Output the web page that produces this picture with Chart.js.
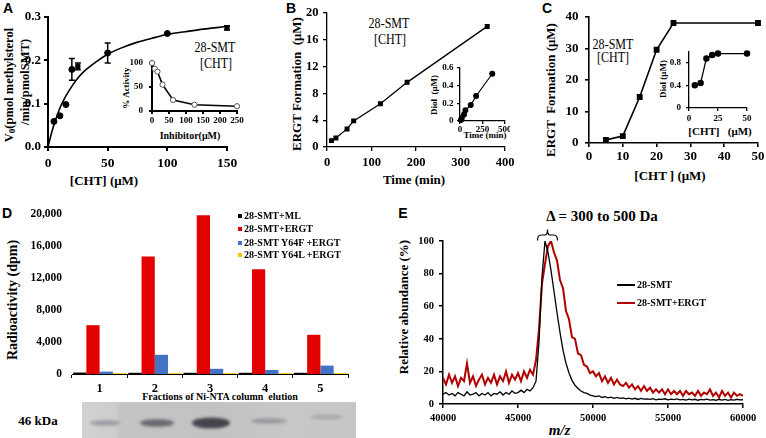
<!DOCTYPE html>
<html>
<head>
<meta charset="utf-8">
<script src="https://cdn.jsdelivr.net/npm/chart.js@4.4.1/dist/chart.umd.min.js"></script>
<style>
html,body{margin:0;padding:0;background:#fff;}
#fig{position:relative;width:766px;height:438px;overflow:hidden;font-family:"Liberation Serif","Times New Roman",serif;color:#000;}
.box{position:absolute;}
.t{position:absolute;white-space:nowrap;font-weight:bold;line-height:1;transform:translate(-50%,-50%);}
.r{transform:translate(-50%,-50%) rotate(-90deg);}
.n{font-weight:normal;transform:translate(-50%,-50%) scaleX(0.86);}
.lab{font-family:"Liberation Sans",Arial,sans-serif;font-size:14px;}
.key{position:absolute;white-space:nowrap;font-weight:bold;font-size:10px;line-height:1;transform:translateY(-50%);}
.sq{position:absolute;width:4px;height:4px;}
.ln{position:absolute;width:18px;}
</style>
</head>
<body>
<div id="fig">
  <!-- panel letters -->
  <div class="t lab" style="left:8px;top:8px">A</div>
  <div class="t lab" style="left:291px;top:8px">B</div>
  <div class="t lab" style="left:547px;top:8px">C</div>
  <div class="t lab" style="left:7px;top:213px">D</div>
  <div class="t lab" style="left:403px;top:213px">E</div>

  <!-- A titles -->
  <div class="t r" style="left:10px;top:85px;font-size:12.5px">V<sub style="font-size:9px;vertical-align:-2px">0</sub>(pmol methylsterol</div>
  <div class="t r" style="left:24.5px;top:82px;font-size:12.5px">/min/pmolSMT)</div>
  <div class="t" style="left:104px;top:180px;font-size:13px">[CHT] (μM)</div>
  <div class="t n" style="left:215px;top:48px;font-size:14px">28-SMT</div>
  <div class="t n" style="left:216px;top:64px;font-size:14px">[CHT]</div>
  <div class="t r" style="left:126px;top:88px;font-size:9px">% Activity</div>
  <div class="t" style="left:190px;top:136px;font-size:10px">Inhibitor(μM)</div>

  <!-- B titles -->
  <div class="t r" style="left:296px;top:84px;font-size:13px">ERGT Formation &nbsp;(μM)</div>
  <div class="t" style="left:414px;top:179px;font-size:13px">Time (min)</div>
  <div class="t n" style="left:389px;top:24px;font-size:14px">28-SMT</div>
  <div class="t n" style="left:390px;top:39.5px;font-size:14px">[CHT]</div>
  <div class="t r" style="left:434px;top:95px;font-size:9px">Diol &nbsp;(μM)</div>
  <div class="t" style="left:485px;top:135px;font-size:9px">Time (min)</div>

  <!-- C titles -->
  <div class="t r" style="left:550px;top:90px;font-size:13px">ERGT &nbsp;Formation (μM)</div>
  <div class="t" style="left:670px;top:175px;font-size:13px">[CHT ] (μM)</div>
  <div class="t n" style="left:613px;top:45px;font-size:14px">28-SMT</div>
  <div class="t n" style="left:612.5px;top:57.5px;font-size:14px">[CHT]</div>
  <div class="t r" style="left:663px;top:79px;font-size:9px">Diol (μM)</div>
  <div class="t" style="left:720px;top:131px;font-size:11px">[CHT] &nbsp;&nbsp;(μM)</div>

  <!-- D titles -->
  <div class="t r" style="left:12.5px;top:300px;font-size:14px">Radioactivity (dpm)</div>
  <div class="t" style="left:220px;top:397px;font-size:10px">Fractions of Ni-NTA column &nbsp;elution</div>
  <div class="t" style="left:38px;top:419.5px;font-size:13px">46 kDa</div>

  <!-- E titles -->
  <div class="t r" style="left:403px;top:307px;font-size:13px">Relative abundance (%)</div>
  <div class="t" style="left:559.5px;top:429.5px;font-size:15px;font-style:italic">m/z</div>
  <div class="t" style="left:602px;top:215.5px;font-size:15px">Δ = 300 to 500 Da</div>
  <svg class="box" style="left:530px;top:225px" width="35" height="20">
    <path d="M7.5,15.5 Q7.5,10 11,10 L15,10 Q17.5,10 17.5,4.5 Q17.5,10 20,10 L24,10 Q27.5,10 27.5,15.5" fill="none" stroke="#000" stroke-width="1.2"/>
  </svg>

  <canvas id="gel" class="box" style="left:82px;top:402px" width="274" height="36"></canvas>
</div>

<script>
// ---------- data ----------
// A: initial velocity vs [CHT]
const aX = [5, 10, 15, 20, 25, 50, 100, 150];
const aY = [0.059, 0.072, 0.098, 0.179, 0.186, 0.217, 0.262, 0.275];
const aErr = [0, 0, 0, 0.025, 0.008, 0.023, 0, 0.005];
const aShape = ['circle','circle','circle','circle','rect','circle','circle','rect'];
// fitted saturation curve
const aFitX = [0, 3, 6, 10, 15, 20, 25, 30, 40, 50, 60, 75, 90, 100, 115, 130, 150];
const aFitY = [0, 0.033, 0.06, 0.09, 0.118, 0.14, 0.159, 0.174, 0.196, 0.214, 0.227, 0.242, 0.253, 0.26, 0.266, 0.272, 0.278];
// A inset: % activity vs inhibitor
const aInX = [0, 8, 16, 31, 62, 125, 250];
const aInY = [100, 88, 82, 55, 23, 13, 10];

// B: ERGT formation vs time
const bX = [10, 20, 45, 60, 120, 180, 360];
const bY = [0.95, 1.35, 2.7, 3.9, 6.45, 9.65, 18.0];
const bDiol = [0.011, 0.034, 0.073, 0.122, 0.18, 0.283, 0.535];

// C: ERGT formation vs [CHT]
const cX = [5, 10, 15, 20, 25, 50];
const cY = [1.0, 2.2, 14.6, 29.6, 38.1, 38.1];
const cDiol = [0.40, 0.44, 0.875, 0.935, 0.96, 0.96];

// D: radioactivity per fraction
const dFractions = ['1', '2', '3', '4', '5'];
const dSeries = ['28-SMT+ML', '28-SMT+ERGT', '28-SMT Y64F +ERGT', '28-SMT Y64L +ERGT'];
const dML = [180, 150, 150, 150, 150];
const dERGT = [6100, 14700, 19850, 13100, 4900];
const dY64F = [300, 2400, 650, 500, 1050];
const dY64L = [110, 110, 110, 110, 110];
const dColors = ['#000000', '#e30000', '#4472c4', '#ffc000'];

// E: mass spectra, sampled every 200 Da from 40000 to 60000
const mz = [];
for (let m = 40000; m <= 60000; m += 200) mz.push(m);
const eSMT = [
  6, 7, 5.5, 6.5, 5, 7, 6, 5, 7.5, 5.5,
  6, 7, 5, 6.5, 5.5, 7, 5, 6.5, 6, 7.5,
  5.5, 7, 6, 8, 6.5, 7, 8.5, 7, 9, 8,
  10, 14, 38, 78, 100, 93, 82, 69, 56, 44,
  33, 25, 19, 14.5, 11.5, 9.5, 8, 7, 6.5, 5.5,
  5, 4.5, 5, 4, 4.5, 3.8, 4.2, 3.5, 4, 3.5,
  3.8, 3.2, 3.6, 3, 3.5, 2.8, 3.4, 3, 3.2, 2.8,
  3.3, 2.6, 3, 2.8, 3.2, 2.5, 3, 2.7, 3.1, 2.5,
  2.8, 2.4, 3, 2.5, 2.9, 2.3, 2.8, 2.5, 3, 2.4,
  2.7, 2.3, 2.9, 2.4, 2.8, 2.2, 2.7, 2.4, 2.9, 2.5,
  2.6
];
const eERGT = [
  16, 12, 18, 13, 17, 11, 16, 14, 25, 13,
  17, 11, 15, 18, 12, 16, 13, 18, 12, 17,
  14, 20, 13, 18, 15, 19, 14, 20, 16, 21,
  18, 27, 46, 74, 86, 97, 100, 93, 88, 76,
  71, 57, 52, 41, 40, 31, 30, 24, 23, 19,
  20, 17, 19, 14, 17, 13, 16, 12, 15, 12,
  11, 13, 10, 12, 9, 11, 8, 11, 8, 10,
  7, 9, 7, 9, 6, 9, 6, 8, 6, 8,
  5, 8, 6, 7, 5, 8, 5, 7, 6, 9,
  5, 7, 4, 8, 5, 7, 4, 7, 5, 6,
  5
];

// ---------- helpers ----------
Chart.defaults.font.family = "'Liberation Serif', 'Times New Roman', serif";
Chart.defaults.font.weight = 'bold';
Chart.defaults.color = '#000';
Chart.defaults.animation = false;
Chart.defaults.responsive = true;
Chart.defaults.maintainAspectRatio = false;
Chart.defaults.plugins.legend.display = false;
Chart.defaults.plugins.tooltip.enabled = false;

function makeCanvas(plot, room) {
  const [L, T, R, B] = plot;
  const box = document.createElement('div');
  box.className = 'box';
  box.style.left = (L - room[0]) + 'px';
  box.style.top = (T - room[1]) + 'px';
  box.style.width = (R - L + room[0] + room[2]) + 'px';
  box.style.height = (B - T + room[1] + room[3]) + 'px';
  const cv = document.createElement('canvas');
  box.appendChild(cv);
  document.getElementById('fig').appendChild(box);
  return cv;
}

function axis(side, room, o) {
  return {
    type: o.type || 'linear',
    min: o.min, max: o.max,
    offset: o.offset || false,
    border: {display: o.border !== false, color: '#000', width: o.lw},
    grid: {display: o.tick > 0, drawOnChartArea: false, drawTicks: true, tickLength: o.tick, color: '#000', lineWidth: o.lw, offset: o.offset || false},
    ticks: {stepSize: o.step, includeBounds: false, autoSkip: false, maxRotation: 0, minRotation: 0,
            padding: o.pad, font: {size: o.size}, callback: o.fmt},
    afterFit: side === 'x'
      ? s => { s.height = room[3]; s.paddingLeft = 0; s.paddingRight = 0; }
      : s => { s.width = room[0]; s.paddingTop = 0; s.paddingBottom = 0; }
  };
}

function pts(xs, ys) { return xs.map((x, i) => ({x: x, y: ys[i]})); }

const errorBars = {
  id: 'errorBars',
  afterDatasetsDraw(chart) {
    const {ctx, scales: {x, y}} = chart;
    ctx.save();
    ctx.strokeStyle = '#000';
    ctx.lineWidth = 1.5;
    aX.forEach((v, i) => {
      if (!aErr[i]) return;
      const px = x.getPixelForValue(v);
      const y1 = y.getPixelForValue(aY[i] + aErr[i]);
      const y2 = y.getPixelForValue(aY[i] - aErr[i]);
      ctx.beginPath();
      ctx.moveTo(px, y1); ctx.lineTo(px, y2);
      ctx.moveTo(px - 3, y1); ctx.lineTo(px + 3, y1);
      ctx.moveTo(px - 3, y2); ctx.lineTo(px + 3, y2);
      ctx.stroke();
    });
    ctx.restore();
  }
};

const fmt1 = v => v.toFixed(1);
const fmtDiol = v => (v === 0 ? '0' : v.toFixed(1));
const fmtInt = v => String(Math.round(v));

// ---------- A ----------
let room = [48, 17, 18, 28];
new Chart(makeCanvas([48, 17, 227, 147], room), {
  type: 'scatter',
  data: {datasets: [
    {data: pts(aX, aY), showLine: false, pointStyle: aShape, pointRadius: 3, backgroundColor: '#000', borderColor: '#000', clip: false},
    {data: pts(aFitX, aFitY), showLine: true, pointRadius: 0, borderColor: '#000', borderWidth: 1.6, cubicInterpolationMode: 'monotone', clip: false}
  ]},
  options: {layout: {padding: {top: room[1], right: room[2]}},
    scales: {
      x: axis('x', room, {min: 0, max: 150, step: 50, lw: 2, tick: 4, pad: 4, size: 13.5, fmt: fmtInt}),
      y: axis('y', room, {min: 0, max: 0.3, step: 0.1, lw: 2, tick: 4, pad: 3, size: 13, fmt: fmt1})
    }},
  plugins: [errorBars]
});

room = [26, 6, 8, 14];
new Chart(makeCanvas([152, 63, 237, 111], room), {
  type: 'scatter',
  data: {datasets: [
    {data: pts(aInX, aInY), showLine: true, borderColor: '#000', borderWidth: 1.6, pointRadius: 2.6, pointBorderWidth: 1, pointBorderColor: '#555', pointBackgroundColor: '#fff', clip: false}
  ]},
  options: {layout: {padding: {top: room[1], right: room[2]}},
    scales: {
      x: axis('x', room, {min: 0, max: 250, step: 50, lw: 2, tick: 3, pad: 1, size: 9, fmt: fmtInt}),
      y: axis('y', room, {min: 0, max: 100, step: 50, lw: 2, tick: 3, pad: 6, size: 9, fmt: fmtInt})
    }}
});

// ---------- B ----------
room = [35, 13, 12, 28];
new Chart(makeCanvas([327, 13, 505, 147], room), {
  type: 'scatter',
  data: {datasets: [
    {data: pts(bX, bY), showLine: true, borderColor: '#000', borderWidth: 1.3, pointStyle: 'rect', pointRadius: 2.6, backgroundColor: '#000', clip: false}
  ]},
  options: {layout: {padding: {top: room[1], right: room[2]}},
    scales: {
      x: axis('x', room, {min: 0, max: 400, step: 100, lw: 1.3, tick: 4, pad: 4, size: 12.5, fmt: fmtInt}),
      y: axis('y', room, {min: 0, max: 20, step: 4, lw: 1.3, tick: 4, pad: 4.5, size: 12.5, fmt: fmtInt})
    }}
});

room = [18, 6, 3, 12];
new Chart(makeCanvas([460, 68, 507, 121], room), {
  type: 'scatter',
  data: {datasets: [
    {data: pts(bX, bDiol), showLine: true, borderColor: '#000', borderWidth: 1.2, pointRadius: 2.4, backgroundColor: '#000', clip: false}
  ]},
  options: {layout: {padding: {top: room[1], right: room[2]}},
    scales: {
      x: axis('x', room, {min: 0, max: 500, step: 250, lw: 1.3, tick: 3, pad: 0.5, size: 9, fmt: fmtInt}),
      y: axis('y', room, {min: 0, max: 0.6, step: 0.2, lw: 1.3, tick: 3, pad: 3.5, size: 9, fmt: fmtDiol})
    }}
});

// ---------- C ----------
room = [30, 17, 8, 26];
new Chart(makeCanvas([589, 17, 758, 143], room), {
  type: 'scatter',
  data: {datasets: [
    {data: pts(cX, cY), showLine: true, borderColor: '#000', borderWidth: 1.6, pointStyle: 'rect', pointRadius: 3, backgroundColor: '#000', clip: false}
  ]},
  options: {layout: {padding: {top: room[1], right: room[2]}},
    scales: {
      x: axis('x', room, {min: 0, max: 50, step: 10, lw: 1.6, tick: 4, pad: 1.5, size: 13, fmt: fmtInt}),
      y: axis('y', room, {min: 0, max: 40, step: 10, lw: 1.6, tick: 4, pad: 6.5, size: 13, fmt: fmtInt})
    }}
});

room = [22, 4, 8, 14];
new Chart(makeCanvas([689, 50, 747, 108], room), {
  type: 'scatter',
  data: {datasets: [
    {data: pts(cX, cDiol), showLine: true, borderColor: '#000', borderWidth: 1.3, pointRadius: 2.6, backgroundColor: '#000', clip: false}
  ]},
  options: {layout: {padding: {top: room[1], right: room[2]}},
    scales: {
      x: axis('x', room, {min: 0, max: 50, step: 25, lw: 1.3, tick: 3, pad: 2, size: 9, fmt: fmtInt}),
      y: axis('y', room, {min: 0, max: 1.0, step: 0.4, lw: 1.3, tick: 3, pad: 5, size: 9, fmt: fmtDiol})
    }}
});

// ---------- D ----------
room = [72, 10, 8, 22];
new Chart(makeCanvas([72, 214, 348, 374], room), {
  type: 'bar',
  data: {labels: dFractions, datasets: [dML, dERGT, dY64F, dY64L].map((d, i) => ({
    label: dSeries[i], data: d, backgroundColor: dColors[i], borderWidth: 0,
    barPercentage: 1, categoryPercentage: 0.96
  }))},
  options: {layout: {padding: {top: room[1], right: room[2]}},
    scales: {
      x: axis('x', room, {type: 'category', offset: true, lw: 1, tick: 4, pad: 3.5, size: 12.5, fmt: function (v) { return this.getLabelForValue(v); }}),
      y: axis('y', room, {min: 0, max: 20000, step: 4000, lw: 1, tick: 0, border: false, pad: 10, size: 11.5, fmt: v => v.toLocaleString('en-US')})
    }}
});

// ---------- E ----------
room = [30, 8, 20, 20];
new Chart(makeCanvas([443, 241, 743, 404], room), {
  type: 'scatter',
  data: {datasets: [
    {label: '28-SMT', data: pts(mz, eSMT), showLine: true, pointRadius: 0, borderColor: '#000', borderWidth: 1.3},
    {label: '28-SMT+ERGT', data: pts(mz, eERGT), showLine: true, pointRadius: 0, borderColor: '#b00000', borderWidth: 2}
  ]},
  options: {layout: {padding: {top: room[1], right: room[2]}},
    scales: {
      x: axis('x', room, {min: 40000, max: 60000, step: 5000, lw: 1.5, tick: 4, pad: 3.5, size: 10.5, fmt: fmtInt}),
      y: axis('y', room, {min: 0, max: 100, step: 20, lw: 1.5, tick: 4, pad: 5, size: 10.5, fmt: fmtInt})
    }}
});

// ---------- legends ----------
const fig = document.getElementById('fig');
const dRows = [216, 229.3, 242.7, 255.3];
dSeries.forEach((name, i) => {
  const sq = document.createElement('div');
  sq.className = 'sq';
  sq.style.cssText = `left:238px;top:${dRows[i] - 2}px;background:${dColors[i]}`;
  fig.appendChild(sq);
  const tx = document.createElement('div');
  tx.className = 'key';
  tx.style.cssText = `left:244px;top:${dRows[i]}px`;
  tx.textContent = name;
  fig.appendChild(tx);
});
[['28-SMT', '#000', 285, 1.5], ['28-SMT+ERGT', '#b00000', 302.5, 2]].forEach(([name, col, y, w]) => {
  const ln = document.createElement('div');
  ln.className = 'ln';
  ln.style.cssText = `left:617px;top:${y - w / 2}px;height:${w}px;background:${col}`;
  fig.appendChild(ln);
  const tx = document.createElement('div');
  tx.className = 'key';
  tx.style.cssText = `left:637px;top:${y}px`;
  tx.textContent = name;
  fig.appendChild(tx);
});

// ---------- gel photo (SDS-PAGE strip under D) ----------
(function drawGel() {
  const g = document.getElementById('gel').getContext('2d');
  const w = 274, h = 36;
  const bg = g.createLinearGradient(0, 0, w, 0);
  bg.addColorStop(0, '#d2d2d2');
  bg.addColorStop(0.12, '#cdcdcd');
  bg.addColorStop(0.14, '#c4c4c4');
  bg.addColorStop(0.5, '#c2c2c2');
  bg.addColorStop(0.75, '#c8c8c8');
  bg.addColorStop(1, '#c6c6c6');
  g.fillStyle = bg;
  g.fillRect(0, 0, w, h);
  const bands = [
    [23, 21, 15, 2.8, 'rgba(95,95,110,0.45)'],
    [75, 21, 17, 3.8, 'rgba(70,70,80,0.72)'],
    [129, 21, 19, 5.5, 'rgba(50,50,60,0.88)'],
    [187, 19, 18, 2.8, 'rgba(100,100,110,0.45)'],
    [245, 15, 16, 2.8, 'rgba(120,120,125,0.35)']
  ];
  g.filter = 'blur(1.6px)';
  bands.forEach(([cx, cy, rx, ry, col]) => {
    g.fillStyle = col;
    g.beginPath();
    g.ellipse(cx, cy, rx, ry, 0, 0, Math.PI * 2);
    g.fill();
  });
  g.filter = 'none';
})();
</script>
</body>
</html>
